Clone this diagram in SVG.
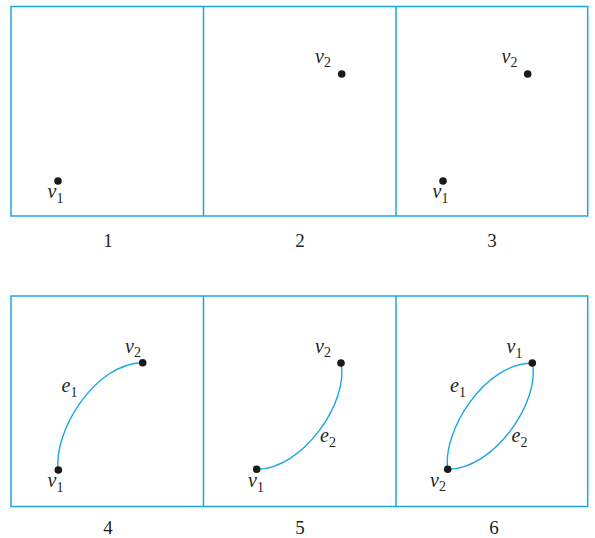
<svg xmlns="http://www.w3.org/2000/svg" width="595" height="538" viewBox="0 0 595 538">
<style>
.frame{fill:none;stroke:#1ba6e2;stroke-width:1.5}
.edge{fill:none;stroke:#1ba6e2;stroke-width:1.4}
.dot{fill:#1a1a1a}
text{font-family:'Liberation Serif','Times New Roman','DejaVu Serif',serif;fill:#231f20}
.lab{font-style:italic;font-size:20px}
.sub{font-style:normal;font-size:14px}
.num{font-size:19px;text-anchor:middle}
</style>
<g id="frames">
<rect class="frame" x="11" y="6.5" width="576.7" height="209.5"/>
<line class="frame" x1="203.5" y1="6.5" x2="203.5" y2="216"/>
<line class="frame" x1="396" y1="6.5" x2="396" y2="216"/>
<rect class="frame" x="11" y="296" width="576.7" height="210.5"/>
<line class="frame" x1="203.5" y1="296" x2="203.5" y2="506.5"/>
<line class="frame" x1="396" y1="296" x2="396" y2="506.5"/>
</g>
<g id="connectors">
<path class="edge" d="M58.3,470 C53,432 95,363 142.7,362.7"/>
<path class="edge" d="M341,363 C349,402 303,469 256.7,469.3"/>
<path class="edge" d="M447.7,469.3 C442.4,431 484.5,363.3 532.3,363"/>
<path class="edge" d="M532.3,363 C540.3,402 494.3,469 447.7,469.3"/>
</g>
<g id="panel1">
<circle class="dot" cx="58" cy="181" r="3.8"/>
<text class="lab" x="47.5" y="198">v<tspan class="sub" dy="5">1</tspan></text>
<text class="num" x="108" y="247">1</text>
</g>
<g id="panel2">
<circle class="dot" cx="341.7" cy="74" r="3.8"/>
<text class="lab" x="315" y="63">v<tspan class="sub" dy="4">2</tspan></text>
<text class="num" x="300" y="247">2</text>
</g>
<g id="panel3">
<circle class="dot" cx="527.7" cy="74" r="3.8"/>
<text class="lab" x="501.5" y="63">v<tspan class="sub" dy="4">2</tspan></text>
<circle class="dot" cx="443" cy="181" r="3.8"/>
<text class="lab" x="432.5" y="198">v<tspan class="sub" dy="5">1</tspan></text>
<text class="num" x="492" y="247">3</text>
</g>
<g id="panel4">
<circle class="dot" cx="142.7" cy="362.7" r="3.8"/>
<text class="lab" x="125" y="353">v<tspan class="sub" dy="4">2</tspan></text>
<circle class="dot" cx="58.3" cy="470" r="3.8"/>
<text class="lab" x="47.5" y="487">v<tspan class="sub" dy="5">1</tspan></text>
<text class="lab" x="61.5" y="391.5">e<tspan class="sub" dy="5">1</tspan></text>
<text class="num" x="108" y="534">4</text>
</g>
<g id="panel5">
<circle class="dot" cx="341" cy="363" r="3.8"/>
<text class="lab" x="315" y="353">v<tspan class="sub" dy="4">2</tspan></text>
<circle class="dot" cx="256.7" cy="469.3" r="3.8"/>
<text class="lab" x="248" y="487">v<tspan class="sub" dy="5">1</tspan></text>
<text class="lab" x="320" y="442">e<tspan class="sub" dy="5">2</tspan></text>
<text class="num" x="300" y="534">5</text>
</g>
<g id="panel6">
<circle class="dot" cx="532.3" cy="363" r="3.8"/>
<text class="lab" x="506.5" y="353">v<tspan class="sub" dy="5">1</tspan></text>
<circle class="dot" cx="447.7" cy="469.3" r="3.8"/>
<text class="lab" x="430" y="487">v<tspan class="sub" dy="4">2</tspan></text>
<text class="lab" x="450" y="391.5">e<tspan class="sub" dy="5">1</tspan></text>
<text class="lab" x="511.5" y="442">e<tspan class="sub" dy="5">2</tspan></text>
<text class="num" x="494" y="534">6</text>
</g>
</svg>
